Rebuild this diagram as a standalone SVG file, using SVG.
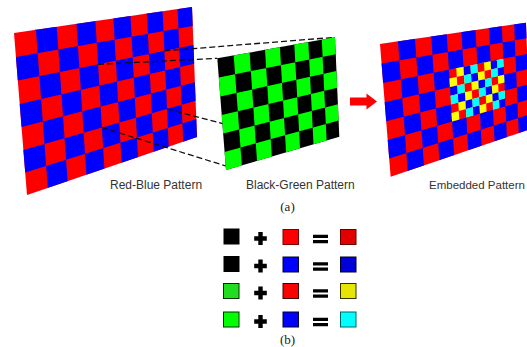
<svg xmlns="http://www.w3.org/2000/svg" xmlns:xlink="http://www.w3.org/1999/xlink" width="527" height="347" viewBox="0 0 527 347">
<style>
.lbl{font-family:"Liberation Sans",Arial,sans-serif;font-size:12px;fill:#333}
.cap{font-family:"Liberation Serif","Times New Roman",serif;font-size:13px;fill:#222;text-anchor:middle}
.dash{fill:none;stroke:#111;stroke-width:1.3;stroke-dasharray:6 3}
.sq{stroke-width:1}
</style>
<defs>
<path id="rbBase" d="M14,33 L192,7 L197,137 L27,195 Z"/>
<path id="rbBlue" fill-rule="evenodd" clip-rule="evenodd" d="M14,33 L35.9,29.8 L47.8,187.9 L27,195 Z M56.7,26.8 L76.5,23.9 L86.4,174.7 L67.6,181.2 Z M95.4,21.1 L113.4,18.5 L121.6,162.7 L104.4,168.6 Z M130.5,16 L146.9,13.6 L153.7,151.8 L138,157.1 Z M162.6,11.3 L177.6,9.1 L183.2,141.7 L168.7,146.6 Z M14,33 L192,7 L192.7,26.1 L15.9,56.9 Z M17.8,80.6 L193.5,45 L194.2,63.7 L19.7,104 Z M21.6,127.1 L194.9,82.3 L195.6,100.7 L23.4,150 Z M25.2,172.6 L196.3,118.9 L197,137 L27,195 Z"/>
<path id="fine" fill-rule="evenodd" d="M98.03,64.31 L107,62.49 L110.68,124.98 L101.89,127.5 Z M115.77,60.71 L124.33,58.97 L127.69,120.11 L119.28,122.52 Z M132.71,57.28 L140.89,55.62 L143.94,115.46 L135.9,117.76 Z M148.9,54 L156.73,52.41 L159.49,111 L151.8,113.21 Z M98.03,64.31 L164.39,50.85 L164.84,60.63 L98.68,74.97 Z M99.33,85.58 L165.28,70.36 L165.72,80.05 L99.97,96.14 Z M100.61,106.65 L166.16,89.69 L166.59,99.29 L101.25,117.1 Z"/>
<clipPath id="blueClip"><use href="#rbBlue" clip-rule="evenodd"/></clipPath>
<path id="plus" d="M-6.3,-2.2h12.6v4.4h-12.6z M-2.2,-6.5h4.4v13h-4.4z"/>
<path id="eq" d="M-7.5,-4.2h15v3.2h-15z M-7.5,1h15v3.2h-15z"/>
</defs>

<g id="red-blue-pattern">
<use href="#rbBase" fill="#ff0000"/>
<use href="#rbBlue" fill="#0000ff"/>
</g>

<g id="connectors">
<line class="dash" x1="98" y1="64.3" x2="217.3" y2="58.3"/>
<line class="dash" x1="164.4" y1="50.9" x2="335" y2="37.3"/>
<line class="dash" x1="167" y1="108.9" x2="224" y2="124"/>
<line class="dash" x1="101.9" y1="127.5" x2="226" y2="166"/>
<path d="M350,97.5 H366.5 V93.5 L377,101.5 L366.5,109.5 V105.5 H350 Z" fill="#ff0000"/>
</g>

<g id="black-green-pattern">
<path d="M217.3,58.3 L335,37.3 L339.3,136.7 L226,170 Z" fill="#000"/>
<path fill="#00ff00" fill-rule="evenodd" d="M217.3,58.3 L233.7,55.4 L241.8,165.4 L226,170 Z M249.6,52.5 L265,49.8 L271.8,156.5 L257,160.9 Z M279.9,47.1 L294.3,44.6 L300,148.2 L286.1,152.3 Z M308.3,42.1 L321.8,39.7 L326.6,140.4 L313.5,144.3 Z M217.3,58.3 L335,37.3 L335.7,54.3 L218.8,77.4 Z M220.3,96.4 L336.5,71.1 L337.2,87.7 L221.7,115.1 Z M223.2,133.6 L337.9,104.2 L338.6,120.5 L224.6,151.9 Z"/>
</g>

<g id="embedded-pattern" transform="matrix(0.82 0 0 0.82 368.52 16.94)">
<use href="#rbBase" fill="#ff0000"/>
<use href="#rbBlue" fill="#0000ff"/>
<use href="#fine" fill="#ffff00"/>
<use href="#fine" fill="#00ffff" clip-path="url(#blueClip)"/>
</g>

<g id="labels">
<text class="lbl" x="110" y="189">Red-Blue Pattern</text>
<text class="lbl" x="246" y="189">Black-Green Pattern</text>
<text class="lbl" x="429" y="189" style="font-size:11.5px">Embedded Pattern</text>
<text class="cap" x="287.5" y="211">(a)</text>
<text class="cap" x="287.5" y="344">(b)</text>
</g>

<g id="legend-row1">
<rect x="223.5" y="228.5" width="16" height="16" fill="#000"/>
<use href="#plus" x="260.5" y="238.5"/>
<rect class="sq" x="283" y="229.5" width="15.5" height="15" fill="#ff0000" stroke="#700"/>
<use href="#eq" x="320.5" y="239"/>
<rect class="sq" x="340.5" y="229.5" width="15.5" height="15" fill="#e00000" stroke="#600"/>
</g>
<g id="legend-row2">
<rect x="223.5" y="256" width="16" height="16" fill="#000"/>
<use href="#plus" x="260.5" y="266"/>
<rect class="sq" x="283" y="257" width="15.5" height="15" fill="#0000ff" stroke="#003"/>
<use href="#eq" x="320.5" y="266.5"/>
<rect class="sq" x="340.5" y="257" width="15.5" height="15" fill="#0000d8" stroke="#002"/>
</g>
<g id="legend-row3">
<rect class="sq" x="223.5" y="283.5" width="15.5" height="15" fill="#20dd20" stroke="#030"/>
<use href="#plus" x="260.5" y="293"/>
<rect class="sq" x="283" y="283.5" width="15.5" height="15" fill="#ff0000" stroke="#400"/>
<use href="#eq" x="320.5" y="293.5"/>
<rect class="sq" x="340.5" y="283.5" width="15.5" height="15" fill="#e6e600" stroke="#330"/>
</g>
<g id="legend-row4">
<rect class="sq" x="223.5" y="312" width="15.5" height="15" fill="#00ff00" stroke="#030"/>
<use href="#plus" x="260.5" y="321.5"/>
<rect class="sq" x="283" y="312" width="15.5" height="15" fill="#0000ff" stroke="#003"/>
<use href="#eq" x="320.5" y="322"/>
<rect class="sq" x="340.5" y="312" width="15.5" height="15" fill="#00ffff" stroke="#066"/>
</g>
</svg>
